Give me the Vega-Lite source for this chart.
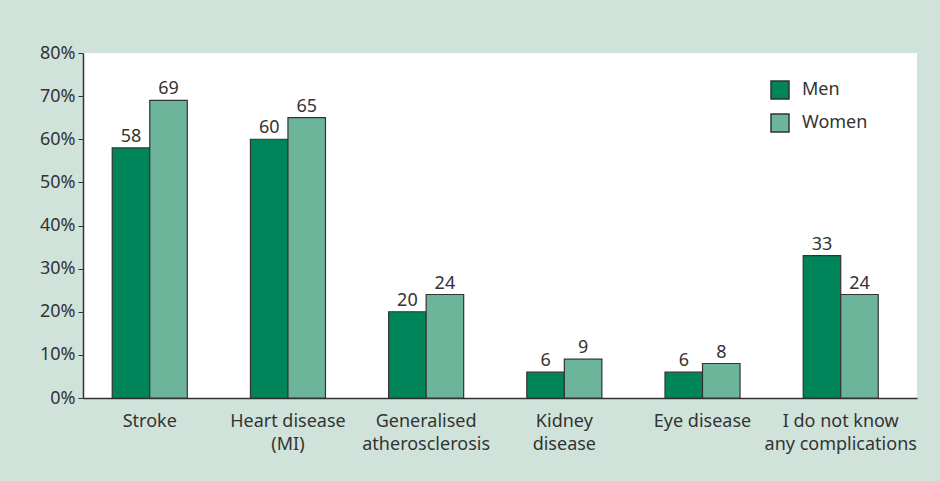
{
  "$schema": "https://vega.github.io/schema/vega-lite/v6.json",
  "width": 834,
  "height": 345,
  "autosize": {"type": "none"},
  "padding": {"left": 83, "top": 53, "right": 23, "bottom": 83},
  "background": "#cfe3db",
  "config": {
    "view": {"fill": "white", "stroke": null},
    "font": "Noto Sans",
    "axis": {"labelFont": "Noto Sans", "labelFontSize": 18, "labelColor": "#333333", "domainColor": "#333333", "tickColor": "#333333", "domainWidth": 1.5, "grid": false, "title": null}
  },
  "data": {
    "values": [
      {"cat": "Stroke", "sex": "Men", "v": 58},
      {"cat": "Stroke", "sex": "Women", "v": 69},
      {"cat": "Heart disease|(MI)", "sex": "Men", "v": 60},
      {"cat": "Heart disease|(MI)", "sex": "Women", "v": 65},
      {"cat": "Generalised|atherosclerosis", "sex": "Men", "v": 20},
      {"cat": "Generalised|atherosclerosis", "sex": "Women", "v": 24},
      {"cat": "Kidney|disease", "sex": "Men", "v": 6},
      {"cat": "Kidney|disease", "sex": "Women", "v": 9},
      {"cat": "Eye disease", "sex": "Men", "v": 6},
      {"cat": "Eye disease", "sex": "Women", "v": 8},
      {"cat": "I do not know|any complications", "sex": "Men", "v": 33},
      {"cat": "I do not know|any complications", "sex": "Women", "v": 24}
    ]
  },
  "encoding": {
    "x": {
      "field": "cat", "type": "nominal", "sort": null,
      "scale": {"paddingInner": 0.457, "paddingOuter": 0.246, "align": 0.43},
      "axis": {"labelAngle": 0, "ticks": false, "labelPadding": 14, "labelExpr": "split(datum.label, '|')", "labelLineHeight": 23, "labelBaseline": "top"}
    },
    "xOffset": {"field": "sex", "type": "nominal", "sort": ["Men", "Women"], "scale": {"paddingInner": 0, "paddingOuter": 0}},
    "y": {
      "field": "v", "type": "quantitative",
      "scale": {"domain": [0, 80], "nice": false},
      "axis": {"values": [0, 10, 20, 30, 40, 50, 60, 70, 80], "labelExpr": "datum.value + '%'", "tickSize": 5, "labelPadding": 3}
    }
  },
  "layer": [
    {
      "mark": {"type": "bar", "stroke": "#333333", "strokeWidth": 1.2},
      "encoding": {
        "color": {
          "field": "sex", "type": "nominal",
          "scale": {"domain": ["Men", "Women"], "range": ["#00845a", "#6db59a"]},
          "legend": {
            "title": null, "orient": "none", "legendX": 687, "legendY": 27,
            "symbolType": "square", "symbolSize": 324, "symbolStrokeColor": "#333333", "symbolStrokeWidth": 1.5,
            "labelFontSize": 18, "labelColor": "#333333", "labelFont": "Noto Sans", "labelOffset": 12, "rowPadding": 9
          }
        }
      }
    },
    {
      "mark": {"type": "text", "baseline": "bottom", "dy": -2, "fontSize": 18, "color": "#333333"},
      "encoding": {"text": {"field": "v", "type": "quantitative"}}
    }
  ]
}
